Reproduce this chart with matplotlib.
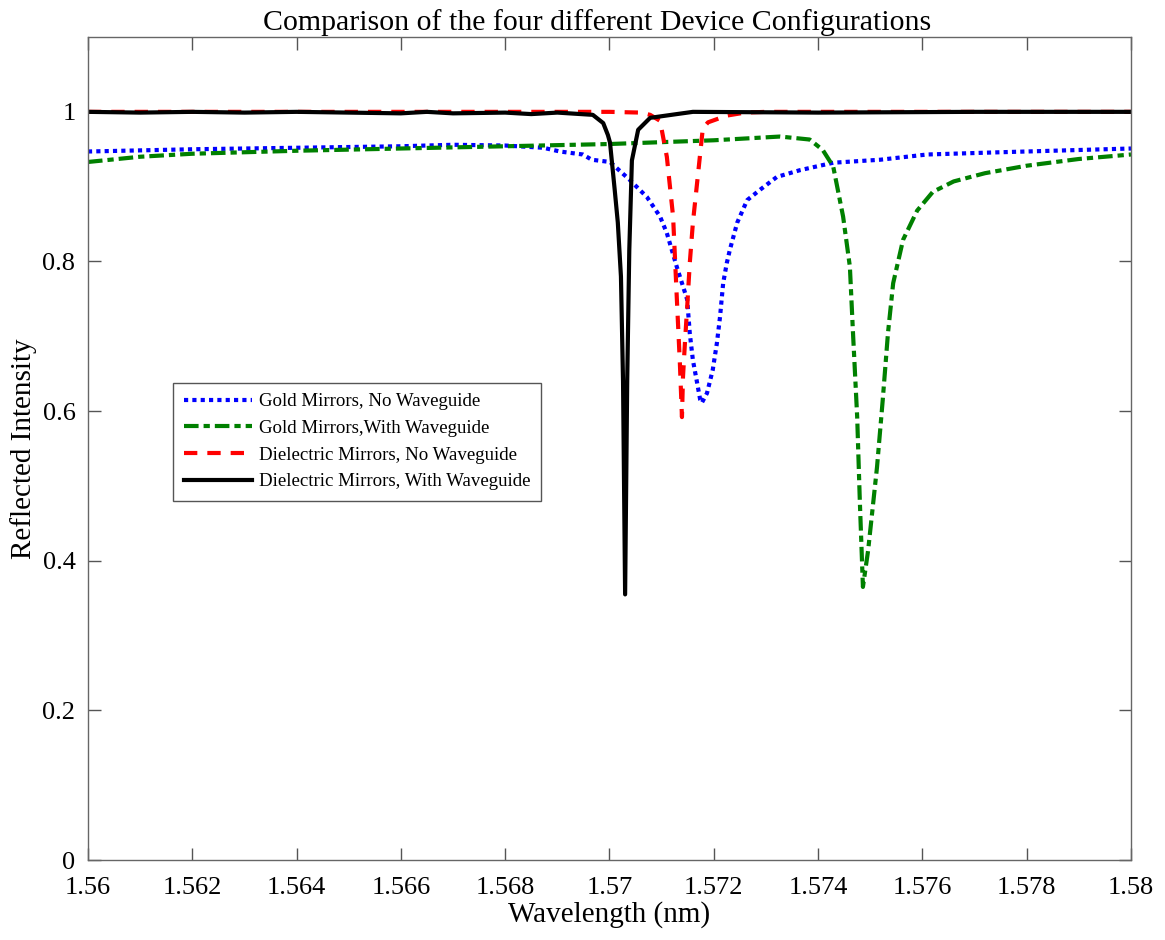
import numpy as np
import matplotlib
matplotlib.use('Agg')
import matplotlib.pyplot as plt

plt.rcParams['font.family'] = ['Liberation Serif', 'DejaVu Serif']

# Gold mirrors, no waveguide (blue dotted)
gold_nowg_x = [1.5600, 1.5620, 1.5640, 1.5660, 1.5670, 1.5680, 1.56873, 1.56905, 1.56949,
               1.56966, 1.57001, 1.57039, 1.57072, 1.57097, 1.57110, 1.57129, 1.57145,
               1.57149, 1.57154, 1.57160, 1.57168, 1.57174, 1.57177, 1.57187, 1.57198,
               1.57206, 1.57212, 1.57218, 1.57225, 1.57231, 1.57245, 1.57264, 1.57289,
               1.57321, 1.57365, 1.57429, 1.57519, 1.57609, 1.57749, 1.58000]
gold_nowg_y = [0.947, 0.950, 0.952, 0.954, 0.956, 0.955, 0.952, 0.947, 0.943,
               0.936, 0.933, 0.909, 0.886, 0.860, 0.838, 0.793, 0.758,
               0.749, 0.704, 0.668, 0.638, 0.615, 0.611, 0.624, 0.655,
               0.691, 0.726, 0.771, 0.798, 0.816, 0.852, 0.882, 0.896,
               0.913, 0.922, 0.932, 0.936, 0.943, 0.946, 0.951]

# Gold mirrors, with waveguide (green dash-dot)
gold_wg_x = [1.5600, 1.5610, 1.5620, 1.5640, 1.5660, 1.5680, 1.5700, 1.5720, 1.57327,
             1.57384, 1.57409, 1.57429, 1.57448, 1.57461, 1.57467, 1.57475, 1.57480,
             1.57486, 1.57496, 1.57513, 1.57524, 1.57534, 1.57544, 1.57563, 1.57590,
             1.57620, 1.57660, 1.57720, 1.57800, 1.57900, 1.58000]
gold_wg_y = [0.933, 0.940, 0.944, 0.948, 0.951, 0.954, 0.957, 0.962, 0.967,
             0.963, 0.949, 0.927, 0.860, 0.793, 0.704, 0.592, 0.481,
             0.365, 0.414, 0.525, 0.615, 0.704, 0.771, 0.829, 0.868,
             0.893, 0.907, 0.918, 0.928, 0.937, 0.943]

# Dielectric mirrors, no waveguide (red dashed)
diel_nowg_x = [1.5600, 1.5620, 1.5640, 1.5660, 1.5680, 1.5700, 1.5706, 1.57078, 1.57097,
               1.57110, 1.57122, 1.57129, 1.57135, 1.57139, 1.57141, 1.57145, 1.57149,
               1.57154, 1.57160, 1.57170, 1.57179, 1.57189, 1.57225, 1.57260, 1.5730,
               1.5760, 1.5800]
diel_nowg_y = [1.000, 1.000, 1.000, 1.000, 1.000, 1.000, 0.999, 0.996, 0.988,
               0.940, 0.860, 0.753, 0.664, 0.592, 0.646, 0.695, 0.739,
               0.798, 0.852, 0.918, 0.978, 0.986, 0.995, 0.999, 1.000,
               1.000, 1.000]

# Dielectric mirrors, with waveguide (black solid)
diel_wg_x = [1.5600, 1.5610, 1.5620, 1.5630, 1.5640, 1.5650, 1.5660, 1.5665, 1.5670,
             1.5680, 1.5685, 1.5690, 1.56968, 1.56988, 1.56997, 1.57001, 1.57010,
             1.57016, 1.57022, 1.57026, 1.57030, 1.57034, 1.57038, 1.57043, 1.57055,
             1.57078, 1.57129, 1.57160, 1.5740, 1.5770, 1.5800]
diel_wg_y = [1.000, 0.999, 1.000, 0.999, 1.000, 0.999, 0.998, 1.000, 0.998,
             0.999, 0.997, 0.999, 0.996, 0.985, 0.969, 0.959, 0.896,
             0.852, 0.780, 0.640, 0.355, 0.640, 0.815, 0.935, 0.976,
             0.992, 0.997, 1.000, 0.999, 1.000, 1.000]

x_ticks = [1.56, 1.562, 1.564, 1.566, 1.568, 1.57, 1.572, 1.574, 1.576, 1.578, 1.58]
x_labels = ['1.56', '1.562', '1.564', '1.566', '1.568', '1.57', '1.572', '1.574',
            '1.576', '1.578', '1.58']
y_ticks = [0, 0.2, 0.4, 0.6, 0.8, 1.0]
y_labels = ['0', '0.2', '0.4', '0.6', '0.8', '1']

fig = plt.figure(figsize=(11.65, 9.4), dpi=100)
ax = fig.add_axes([0.0755, 0.0851, 0.8953, 0.8755])

ax.plot(gold_nowg_x, gold_nowg_y, color=(0, 0, 1), lw=3, dashes=(1, 1),
        label='Gold Mirrors, No Waveguide')
ax.plot(gold_wg_x, gold_wg_y, color=(0, 0.5, 0), lw=3, dashes=(3.5, 1.2, 1.5, 1.2),
        label='Gold Mirrors,With Waveguide')
ax.plot(diel_nowg_x, diel_nowg_y, color=(1, 0, 0), lw=3, dashes=(3.2, 2.4),
        label='Dielectric Mirrors, No Waveguide')
ax.plot(diel_wg_x, diel_wg_y, color='black', lw=3,
        label='Dielectric Mirrors, With Waveguide')

ax.set_xlim(1.56, 1.58)
ax.set_ylim(0, 1.1)
ax.set_xticks(x_ticks)
ax.set_xticklabels(x_labels)
ax.set_yticks(y_ticks)
ax.set_yticklabels(y_labels)
ax.tick_params(direction='in', top=True, right=True, length=9, width=1,
               color='#555555', labelsize=19)
ax.tick_params(axis='x', pad=12)
ax.tick_params(axis='y', pad=9)
for s in ax.spines.values():
    s.set_color('#666666')
    s.set_linewidth(1)

ax.set_xlabel('Wavelength (nm)', fontsize=21, labelpad=2)
ax.set_ylabel('Reflected Intensity', fontsize=21, labelpad=4)
ax.set_title('Comparison of the four different Device Configurations', fontsize=21.5,
             pad=5, x=0.488)

leg = ax.legend(loc='upper left', bbox_to_anchor=(0.082, 0.58), borderaxespad=0,
                fontsize=13.6, handlelength=3.6, fancybox=False, framealpha=1,
                edgecolor='#555555', borderpad=0.55, labelspacing=0.5, handletextpad=0.4)
leg.get_frame().set_linewidth(1)

fig.savefig('out.png', dpi=100)
